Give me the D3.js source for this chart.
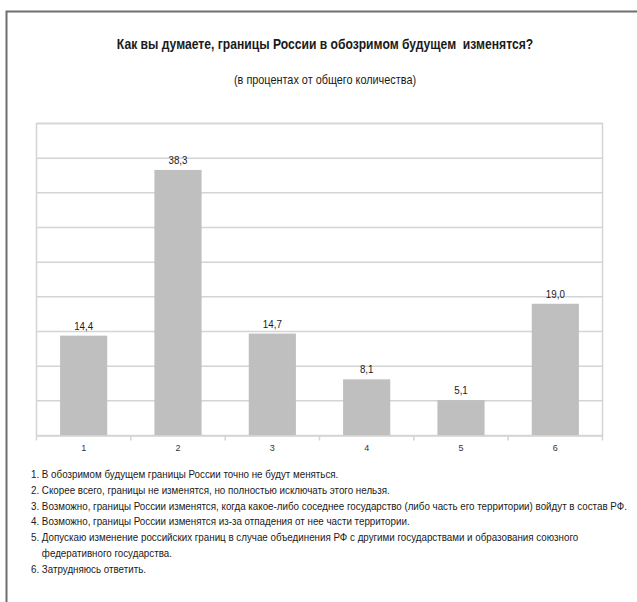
<!DOCTYPE html>
<html><head><meta charset="utf-8">
<script src="https://cdn.jsdelivr.net/npm/d3@7"></script>
<style>body{margin:0;background:#fff}svg{display:block}</style>
</head><body>
<script>
const categories = ["1","2","3","4","5","6"];
const values = [14.4, 38.3, 14.7, 8.1, 5.1, 19.0];
const valueLabels = ["14,4","38,3","14,7","8,1","5,1","19,0"];
const yTicks = [0,5,10,15,20,25,30,35,40,45];
const title = "Как вы думаете, границы России в обозримом будущем  изменятся?";
const subtitle = "(в процентах от общего количества)";
const legendLines = [
  "1. В обозримом будущем границы России точно не будут меняться.",
  "2. Скорее всего, границы не изменятся, но полностью исключать этого нельзя.",
  "3. Возможно, границы России изменятся, когда какое-либо соседнее государство (либо часть его территории) войдут в состав РФ.",
  "4. Возможно, границы России изменятся из-за отпадения от нее части территории.",
  "5. Допускаю изменение российских границ в случае объединения РФ с другими государствами и образования союзного",
  "    федеративного государства.",
  "6. Затрудняюсь ответить."
];

const W = 637, H = 602;
const font = "'Liberation Sans',Arial,sans-serif";
const svg = d3.select("body").append("svg").attr("width", W).attr("height", H);

// outer frame
svg.append("rect").attr("x", 6.5).attr("y", 11.5).attr("width", 700).attr("height", 700)
  .attr("fill", "none").attr("stroke", "#6e6e6e").attr("stroke-width", 2);

const L = 36.5, R = 602.5, T = 123.5, B = 435.5;
const x = d3.scaleBand().domain(categories).range([L, R]).paddingInner(0.5).paddingOuter(0.25);
const xb = d3.scaleBand().domain(categories).range([L, R]);
const y = d3.scaleLinear().domain([0, 45]).range([B, T]);

function ctext(parent, tx, ty, sx, str, size, anchor, weight) {
  const g = parent.append("g").attr("transform", `translate(${tx},${ty}) scale(${sx},1)`);
  return g.append("text").attr("x", 0).attr("y", 0).attr("text-anchor", anchor || "start")
    .attr("font-family", font).attr("font-size", size).attr("font-weight", weight || "normal")
    .attr("fill", "#1a1a1a").style("white-space", "pre").text(str);
}

// gridlines
svg.append("g").selectAll("line").data(yTicks.slice(1)).join("line")
  .attr("x1", L).attr("x2", R).attr("y1", d => y(d)).attr("y2", d => y(d))
  .attr("stroke", "#d4d4d4").attr("stroke-width", 1.5);
svg.append("rect").attr("x", L).attr("y", T).attr("width", R - L).attr("height", B - T)
  .attr("fill", "none").attr("stroke", "#d4d4d4").attr("stroke-width", 1.5);

// bars
svg.append("g").selectAll("rect").data(values).join("rect")
  .attr("x", (d, i) => x(categories[i])).attr("width", x.bandwidth())
  .attr("y", d => y(d)).attr("height", d => B - y(d))
  .attr("fill", "#bfbfbf");

// value labels
const vl = svg.append("g");
values.forEach((v, i) => {
  ctext(vl, x(categories[i]) + x.bandwidth() / 2, y(v) - 6, 0.85, valueLabels[i], 11.5, "middle");
});

// x axis
const xAxis = d3.axisBottom(xb).tickSize(0).tickPadding(9);
const gx = svg.append("g").attr("transform", `translate(0,${B})`).call(xAxis);
gx.select(".domain").attr("stroke", "#d4d4d4").attr("stroke-width", 1.5);
gx.selectAll("text").attr("font-family", font).attr("font-size", 9).attr("fill", "#333");
const bounds = categories.map(c => xb(c)).concat([R]);
gx.selectAll("line.bt").data(bounds).join("line").attr("class", "bt")
  .attr("x1", d => d).attr("x2", d => d).attr("y1", 0).attr("y2", 5)
  .attr("stroke", "#d4d4d4").attr("stroke-width", 1.5);

// titles
ctext(svg, 325, 49, 0.837, title, 14.5, "middle", "bold");
ctext(svg, 325, 84, 0.87, subtitle, 12.5, "middle");

// legend
const lg = svg.append("g");
legendLines.forEach((t, i) => {
  ctext(lg, 31, 478 + i * 15.8, 0.83, t, 11.8, "start");
});
</script>
</body></html>
